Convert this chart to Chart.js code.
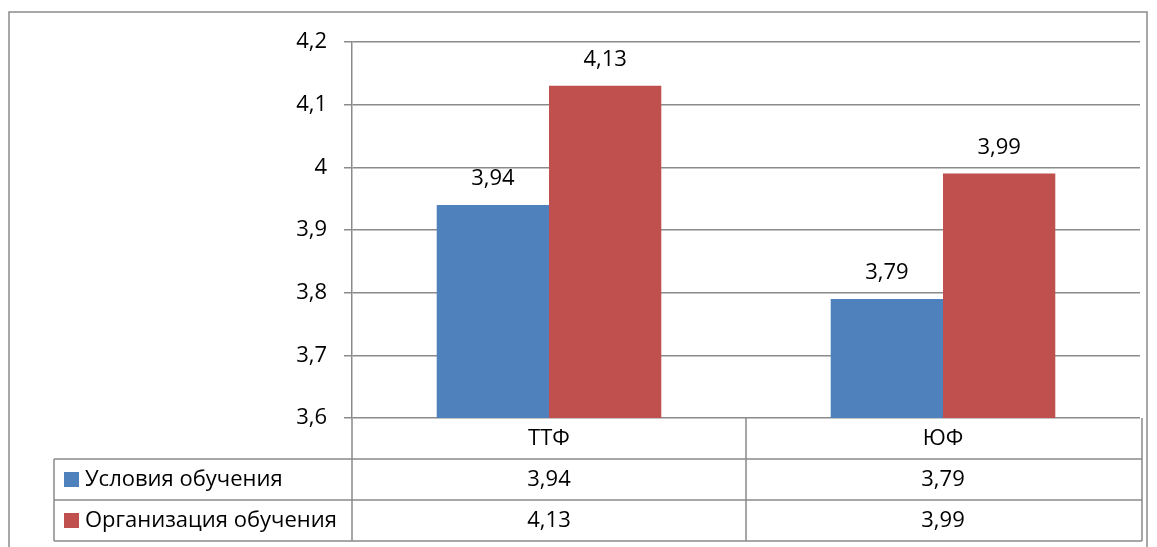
<!DOCTYPE html>
<html>
<head>
<meta charset="utf-8">
<script src="https://cdn.jsdelivr.net/npm/chart.js@4.4.1/dist/chart.umd.min.js"></script>
<style>
  body { margin: 0; background: #fff; }
  canvas { display: block; }
</style>
</head>
<body>
<canvas id="chart" width="1157" height="547"></canvas>
<script>
// data
const categories = ['ТТФ', 'ЮФ'];
const seriesNames = ['Условия обучения', 'Организация обучения'];
const conditionsValues = [3.94, 3.79];
const organizationValues = [4.13, 3.99];
const seriesColors = ['#4f81bd', '#c0504d'];

const lineColor = '#8a8a8a';
const fontFamily = '"Open Sans", sans-serif';
const fontSize = 22;

function fmt(v) {
  return String(Math.round(v * 100) / 100).replace('.', ',');
}

// value labels above bars, the data table and the outer frame
const tablePlugin = {
  id: 'tablePlugin',
  afterDatasetsDraw(chart) {
    const ctx = chart.ctx;
    ctx.save();
    ctx.font = fontSize + 'px ' + fontFamily;
    ctx.fillStyle = '#000';
    ctx.textAlign = 'center';
    ctx.textBaseline = 'middle';
    chart.data.datasets.forEach((ds, i) => {
      chart.getDatasetMeta(i).data.forEach((bar, j) => {
        ctx.fillText(fmt(ds.data[j]), bar.x, bar.y - 26);
      });
    });
    ctx.restore();
  },
  afterDraw(chart) {
    const ctx = chart.ctx;
    const area = chart.chartArea;
    const xScale = chart.scales.x;
    const rowH = 41;
    const top = area.bottom;
    const tableLeft = 54;
    const right = area.right + 2;
    const mid = xScale.getPixelForValue(0.5);

    ctx.save();
    ctx.strokeStyle = lineColor;
    ctx.lineWidth = 1.5;

    // outer frame
    ctx.strokeRect(9, 12, 1138, 560);

    ctx.beginPath();
    ctx.moveTo(area.left, top); ctx.lineTo(area.left, top + rowH * 3);
    ctx.moveTo(mid, top); ctx.lineTo(mid, top + rowH * 3);
    ctx.moveTo(right, top); ctx.lineTo(right, top + rowH * 3);
    for (let r = 1; r <= 3; r++) {
      ctx.moveTo(tableLeft, top + rowH * r);
      ctx.lineTo(right, top + rowH * r);
    }
    ctx.moveTo(tableLeft, top + rowH); ctx.lineTo(tableLeft, top + rowH * 3);
    ctx.stroke();

    ctx.font = fontSize + 'px ' + fontFamily;
    ctx.fillStyle = '#000';
    ctx.textBaseline = 'middle';
    ctx.textAlign = 'center';
    categories.forEach((c, j) => {
      ctx.fillText(c, xScale.getPixelForValue(j), top + rowH / 2);
    });
    chart.data.datasets.forEach((ds, i) => {
      const cy = top + rowH * (i + 1) + rowH / 2;
      ctx.textAlign = 'center';
      ds.data.forEach((v, j) => {
        ctx.fillText(fmt(v), xScale.getPixelForValue(j), cy);
      });
      ctx.fillStyle = seriesColors[i];
      ctx.fillRect(64, cy - 7.5, 15, 15);
      ctx.fillStyle = '#000';
      ctx.textAlign = 'left';
      ctx.fillText(seriesNames[i], 85, cy);
    });
    ctx.restore();
  }
};

new Chart(document.getElementById('chart'), {
  type: 'bar',
  data: {
    labels: categories,
    datasets: [
      { label: seriesNames[0], data: conditionsValues, backgroundColor: seriesColors[0], borderWidth: 0 },
      { label: seriesNames[1], data: organizationValues, backgroundColor: seriesColors[1], borderWidth: 0 }
    ]
  },
  options: {
    responsive: false,
    devicePixelRatio: 1,
    animation: false,
    layout: { padding: { left: 0, top: 42, right: 17, bottom: 129 } },
    datasets: { bar: { categoryPercentage: 0.57, barPercentage: 1 } },
    scales: {
      x: { display: false },
      y: {
        min: 3.6,
        max: 4.2,
        afterFit(scale) { scale.width = 352; },
        ticks: {
          stepSize: 0.1,
          color: '#000',
          padding: 17,
          font: { family: fontFamily, size: fontSize },
          callback: v => fmt(Math.round(v * 10) / 10)
        },
        grid: { color: lineColor, lineWidth: 1.5, tickLength: 8 },
        border: { color: lineColor, width: 1.5 }
      }
    },
    plugins: {
      legend: { display: false },
      tooltip: { enabled: false }
    }
  },
  plugins: [tablePlugin]
});
</script>
</body>
</html>
